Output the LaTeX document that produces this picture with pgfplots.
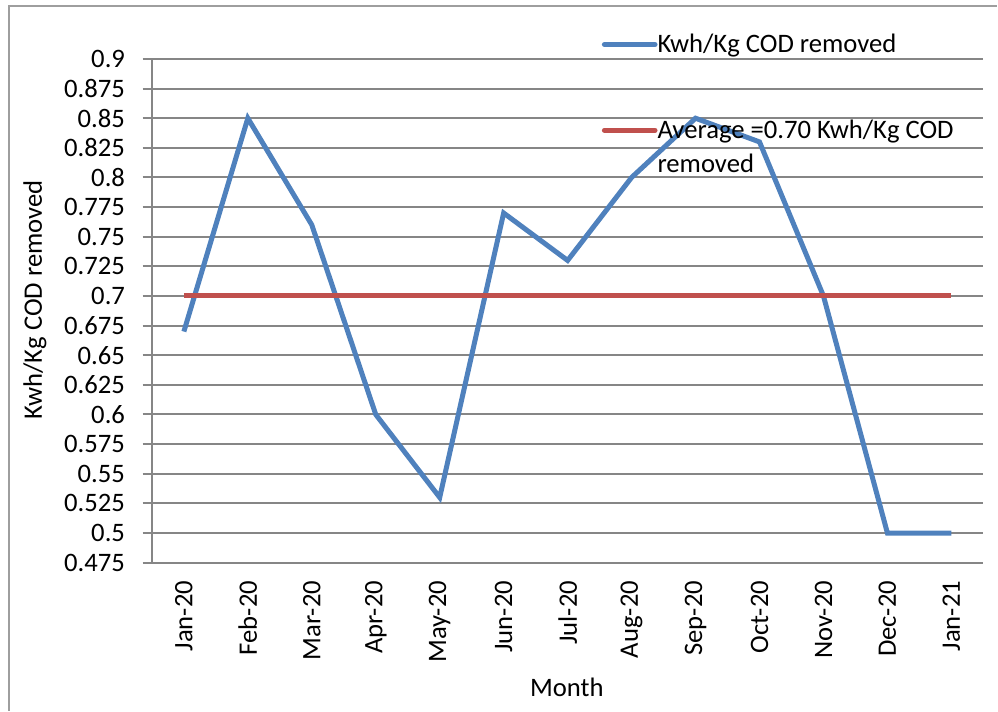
\documentclass[border=0pt]{standalone}
\usepackage{pgfplots}
\pgfplotsset{compat=1.18}
\usepackage{fontspec}
\setmainfont{Carlito}
\definecolor{serblue}{HTML}{4F81BD}
\definecolor{serred}{HTML}{C0504D}
\definecolor{gridgray}{HTML}{868686}
% image pixel (x,y from top-left) -> picture coordinate, axis south west = pixel (152,563)
\newcommand\PX[2]{({(#1-152)*0.75pt},{(563-#2)*0.75pt})}
\begin{document}
\begin{tikzpicture}
\begin{axis}[
  at={(0pt,0pt)}, anchor=south west,
  scale only axis, width=624pt, height=378pt,
  font=\fontsize{20}{25}\selectfont,
  xmin=-0.5, xmax=12.5,
  ymin=0.475, ymax=0.9,
  ytick={0.475,0.5,0.525,0.55,0.575,0.6,0.625,0.65,0.675,0.7,0.725,0.75,0.775,0.8,0.825,0.85,0.875,0.9},
  yticklabel style={/pgf/number format/fixed,/pgf/number format/precision=3,/pgf/number format/assume math mode=true, anchor=east, inner sep=0pt, xshift=-13pt},
  xtick={0,1,2,3,4,5,6,7,8,9,10,11,12},
  xticklabels={Jan-20,Feb-20,Mar-20,Apr-20,May-20,Jun-20,Jul-20,Aug-20,Sep-20,Oct-20,Nov-20,Dec-20,Jan-21},
  xticklabel style={yshift=-6.5pt, rotate=90, anchor=east, inner sep=0pt},
  x tick style={draw=none},
  y tick style={gridgray, line width=1.5pt},
  tick align=outside,
  major tick length=7pt,
  axis x line*=bottom, axis y line*=left,
  axis line style={gridgray, line width=1.5pt, -},
  ymajorgrids,
  major grid style={gridgray, line width=1.5pt},
  xlabel={Month},
  xlabel style={at={(axis description cs:0.499,-0.248)}, anchor=center},
  ylabel={Kwh/Kg COD removed},
  ylabel style={at={(axis description cs:-0.1406,0.522)}, anchor=center},
  legend style={at={(axis description cs:0.5409,1.0496)}, anchor=north west, draw=none, fill=none, inner sep=0pt, row sep=49pt, column sep=0pt, nodes={inner sep=0pt}},
  legend cell align=left,
  legend image code/.code={\draw[#1, line cap=round] (0pt,0pt) -- (38pt,0pt);},
]
\addplot[serblue, line width=3.75pt] coordinates {
(0,0.67) (1,0.85) (2,0.76) (3,0.60) (4,0.53) (5,0.77) (6,0.73) (7,0.80) (8,0.85) (9,0.83) (10,0.70) (11,0.50) (12,0.50)
};
\addlegendentry{Kwh/Kg COD removed}
\addplot[serred, line width=3.75pt] coordinates {
(0,0.70) (12,0.70)
};
\addlegendentry{\parbox[t]{240pt}{\fontsize{20}{25.5}\selectfont\raggedright Average =0.70 Kwh/Kg COD\\removed}}
\end{axis}
\draw[gridgray!80,line width=1pt] \PX{9}{711} -- \PX{9}{6} -- \PX{998}{6};
\path \PX{0}{0} rectangle \PX{998}{711};
\end{tikzpicture}
\end{document}
